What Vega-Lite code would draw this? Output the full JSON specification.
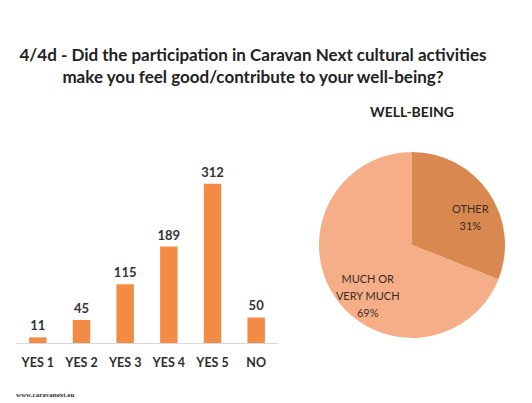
{
  "$schema": "https://vega.github.io/schema/vega-lite/v6.json",
  "background": "white",
  "padding": {"left": 16, "top": 47, "right": 10, "bottom": 0},
  "config": {"view": {"stroke": null}, "font": "Lato"},
  "title": {
    "text": ["4/4d - Did the participation in Caravan Next cultural activities", "make you feel good/contribute to your well-being?"],
    "fontSize": 17,
    "font": "Lato",
    "fontWeight": "bold",
    "color": "#222222",
    "anchor": "middle",
    "lineHeight": 22,
    "offset": 19,
    "dx": -11
  },
  "spacing": 34,
  "hconcat": [
    {
      "width": 262,
      "height": 198,
      "title": {"text": "www.caravanext.eu", "orient": "bottom", "anchor": "start", "fontSize": 7, "font": "Liberation Serif", "fontWeight": "bold", "color": "#333333", "offset": 22},
      "data": {"values": [
        {"answer": "YES 1", "count": 11},
        {"answer": "YES 2", "count": 45},
        {"answer": "YES 3", "count": 115},
        {"answer": "YES 4", "count": 189},
        {"answer": "YES 5", "count": 312},
        {"answer": "NO", "count": 50}
      ]},
      "encoding": {
        "x": {"field": "answer", "type": "nominal", "sort": null,
          "scale": {"paddingInner": 0.6, "paddingOuter": 0.3},
          "axis": {"title": null, "labelAngle": 0, "labelFontSize": 12.5, "labelFontWeight": "bold", "labelColor": "#2e2e2e", "labelPadding": 13, "ticks": false, "domainColor": "#d9d9d9", "domainWidth": 1}},
        "y": {"field": "count", "type": "quantitative", "scale": {"domain": [0, 388]}, "axis": null}
      },
      "layer": [
        {"mark": {"type": "bar", "color": "#F28C45"}},
        {"mark": {"type": "text", "dy": -11, "fontSize": 13, "fontWeight": "bold", "color": "#333333"},
         "encoding": {"text": {"field": "count", "type": "quantitative"}}}
      ]
    },
    {
      "width": 200,
      "height": 200,
      "title": {"text": "WELL-BEING", "fontSize": 14, "fontWeight": "bold", "color": "#222222", "offset": 25},
      "data": {"values": [
        {"group": "OTHER", "pct": 31, "order": 1, "label": "OTHER\n31%"},
        {"group": "MUCH OR VERY MUCH", "pct": 69, "order": 2, "label": "MUCH OR\nVERY MUCH\n69%"}
      ]},
      "encoding": {
        "theta": {"field": "pct", "type": "quantitative", "stack": true},
        "order": {"field": "order", "type": "quantitative"}
      },
      "layer": [
        {"mark": {"type": "arc", "outerRadius": 93},
         "encoding": {"color": {"field": "group", "type": "nominal", "legend": null,
          "scale": {"domain": ["OTHER", "MUCH OR VERY MUCH"], "range": ["#D9894F", "#F6AE88"]}}}},
        {"mark": {"type": "text", "radius": 62, "dx": 7, "lineBreak": "\n", "fontSize": 11, "color": "#3a2d25", "lineHeight": 17},
         "encoding": {"text": {"field": "label", "type": "nominal"}}}
      ]
    }
  ]
}
